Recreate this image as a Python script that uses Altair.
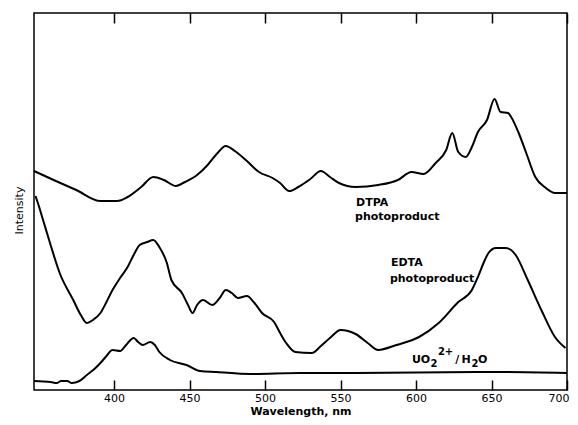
import altair as alt
import pandas as pd

# Wavelength (nm) and relative intensity (arbitrary units)
dtpa_nm = [347, 360, 375, 391, 402, 409, 418, 426, 433, 441, 447, 455, 462, 468, 474, 480,
           488, 496, 505, 510, 516, 522, 530, 537, 543, 549, 560, 575, 588, 597, 605, 613,
           620, 624, 628, 633, 637, 641, 647, 652, 656, 661, 663, 668, 673, 679, 686, 692, 700]
dtpa_int = [219, 210, 200, 189, 189, 193, 203, 213, 210, 204, 208, 215, 225, 236, 244, 239,
            229, 218, 212, 207, 199, 203, 211, 219, 213, 207, 203, 205, 210, 218, 216, 227,
            240, 257, 238, 233, 243, 258, 270, 291, 278, 277, 273, 257, 237, 213, 202, 197, 197]

edta_nm = [348, 350, 353, 358, 364, 373, 378, 382, 386, 391, 395, 399, 404, 409, 413, 417,
           422, 426, 430, 435, 438, 445, 449, 452, 455, 459, 465, 470, 474, 478, 482, 488,
           493, 498, 506, 510, 514, 520, 531, 537, 543, 550, 560, 568, 575, 587, 602, 615,
           628, 637, 641, 645, 648, 653, 659, 663, 666, 674, 683, 692, 699]
edta_int = [194, 185, 170, 145, 117, 90, 75, 67, 70, 77, 88, 100, 112, 123, 135, 145,
            148, 150, 143, 127, 110, 97, 85, 77, 85, 90, 85, 92, 100, 97, 92, 94,
            87, 77, 68, 57, 47, 38, 37, 44, 52, 60, 56, 47, 40, 45, 53, 67,
            88, 100, 113, 128, 137, 142, 142, 140, 135, 110, 80, 53, 42]

uo2_nm = [347, 358, 362, 365, 369, 372, 377, 382, 387, 391, 395, 399, 404, 408, 413, 416,
          419, 424, 427, 430, 437, 448, 457, 468, 490, 523, 560, 640, 660, 700]
uo2_int = [9, 8, 7, 9, 9, 7, 9, 15, 21, 27, 34, 40, 39, 45, 52, 48,
           45, 48, 45, 38, 30, 25, 19, 18, 16, 17, 17, 18, 18, 17]

tick_values = [400, 450, 500, 550, 600, 650, 700]

# Annotations (text, wavelength, intensity, font size); the UO2(2+)/H2O label is
# composed of pieces so that sub- and superscripts read like the original
ann_text = ["DTPA", "photoproduct", "EDTA", "photoproduct",
            "UO", "2", "2+", "/", "H", "2", "O"]
ann_nm = [560.3, 559.6, 583.4, 582.7,
          597.3, 609.6, 614.5, 626.0, 630.2, 636.8, 641.0]
ann_int = [184, 170, 124, 108,
           27, 23, 35, 27, 27, 23, 27]
ann_size = [11, 11, 11, 11,
            11, 10, 10, 11, 11, 10, 11]

rows = []
for name, xs, ys in [("DTPA", dtpa_nm, dtpa_int), ("EDTA", edta_nm, edta_int),
                     ("UO2", uo2_nm, uo2_int)]:
    for i, (a, b) in enumerate(zip(xs, ys)):
        rows.append({"series": name, "nm": a, "intensity": b, "order": i})
df = pd.DataFrame(rows)
ann = pd.DataFrame({"text": ann_text, "nm": ann_nm, "intensity": ann_int, "size": ann_size})
ticks_df = pd.DataFrame({"nm": tick_values})

xscale = alt.Scale(domain=[347, 700], nice=False, zero=False)
yscale = alt.Scale(domain=[0, 377], nice=False, zero=False)

lines = alt.Chart(df).mark_line(color="black", strokeWidth=2, interpolate="monotone").encode(
    x=alt.X("nm:Q", scale=xscale,
            axis=alt.Axis(title="Wavelength, nm", values=tick_values, offset=-10,
                          tickSize=10, tickWidth=1.5, tickColor="black", domain=False,
                          labelPadding=2, labelFontSize=11, labelFont="DejaVu Sans",
                          labelColor="black", labelFlush=True, labelFlushOffset=2,
                          titleFontSize=11, titleFont="DejaVu Sans",
                          titleFontWeight="bold", titleColor="black",
                          titleBaseline="alphabetic", titleY=34.5,
                          grid=False)),
    y=alt.Y("intensity:Q", scale=yscale,
            axis=alt.Axis(title="Intensity", ticks=False, labels=False, domain=False,
                          grid=False, titleFont="DejaVu Sans", titleFontSize=11,
                          titleFontWeight="normal", titleColor="black", titlePadding=10,
                          titleY=197)),
    detail="series:N",
    order="order:Q",
)

labels = alt.Chart(ann).mark_text(align="left", baseline="alphabetic", font="DejaVu Sans",
                                  fontWeight="bold", color="black").encode(
    x=alt.X("nm:Q", scale=xscale),
    y=alt.Y("intensity:Q", scale=yscale),
    text="text:N",
    size=alt.Size("size:Q", scale=None, legend=None),
)

base = alt.layer(lines, labels)

top_ticks = alt.Chart(ticks_df).mark_point(opacity=0).encode(
    x=alt.X("nm:Q", scale=xscale,
            axis=alt.Axis(orient="top", title=None, labels=False, values=tick_values,
                          offset=-10, tickSize=10, tickWidth=1.5, tickColor="black",
                          domain=False, grid=False)),
)

chart = alt.layer(base, top_ticks).resolve_scale(x="independent").resolve_axis(
    x="independent"
).properties(
    width=533, height=377,
    autosize=alt.AutoSizeParams(type="none"),
    padding={"left": 26, "top": 5, "right": 3, "bottom": 27},
).configure(background="white").configure_view(stroke="black", strokeWidth=1.5)

chart.save("out.html", embed_options={"renderer": "svg", "actions": False})
